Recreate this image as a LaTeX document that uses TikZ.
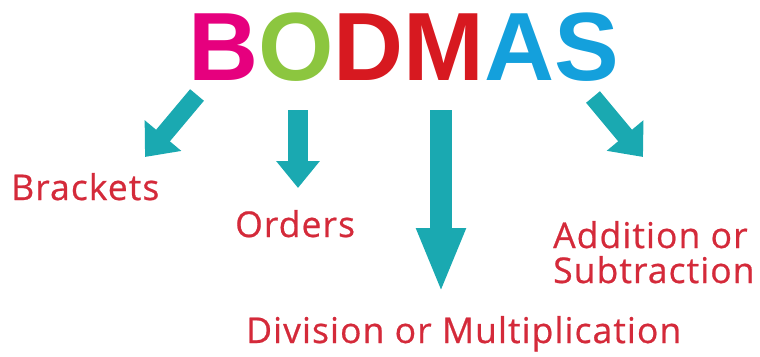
\documentclass[tikz,border=0pt]{standalone}
\usepackage{fontspec}
\setmainfont{Open Sans}
\newfontfamily\labelfont[LetterSpace=3,FakeBold=0.6]{Open Sans}
\newfontfamily\titlefont{Liberation Sans}
\usetikzlibrary{arrows.meta}
\definecolor{tealarrow}{HTML}{1AA9B1}
\definecolor{labelred}{HTML}{D42A3A}
\definecolor{bpink}{HTML}{E6007E}
\definecolor{ogreen}{HTML}{8CC63F}
\definecolor{dred}{HTML}{D71920}
\definecolor{ablue}{HTML}{14A0DC}
\tikzset{
  lbl/.style={anchor=base west, inner sep=0pt, text=labelred, font=\labelfont\fontsize{35.5}{42}\selectfont},
  bigarrow/.style={draw=tealarrow, line width=#1, line cap=butt},
}
\begin{document}
\begin{tikzpicture}[x=1pt,y=-1pt]
\useasboundingbox (0,0) rectangle (760,356);
\node[anchor=base west, inner sep=0pt, font=\titlefont\bfseries\fontsize{97}{110}\selectfont] (title) at (188,80)
  {\textcolor{bpink}{B}\textcolor{ogreen}{O}\textcolor{dred}{DM}\textcolor{ablue}{AS}};
\node[lbl] (brackets) at (11,200) {Brackets};
\node[lbl] (orders) at (235,237) {Orders};
\node[lbl] (addsub) at (553,248) {Addition or};
\node[lbl] (sub) at (553,283) {Subtraction};
\node[lbl] (divmul) at (246,343) {Division or Multiplication};
\coordinate (t1) at (197,95);  \coordinate (h1) at (145,157);
\coordinate (t2) at (298,110); \coordinate (h2) at (298,188);
\coordinate (t3) at (441,110); \coordinate (h3) at (441,293);
\coordinate (t4) at (593,97);  \coordinate (h4) at (643,157);
\draw[bigarrow=18pt, -{Triangle[length=28pt,width=46pt]}] (t1) -- (h1);
\draw[bigarrow=20pt, -{Triangle[length=27pt,width=42pt]}] (t2) -- (h2);
\draw[bigarrow=22pt, -{Triangle[length=65pt,width=45pt]}] (t3) -- (h3);
\draw[bigarrow=18pt, -{Triangle[length=28pt,width=46pt]}] (t4) -- (h4);
\end{tikzpicture}
\end{document}
